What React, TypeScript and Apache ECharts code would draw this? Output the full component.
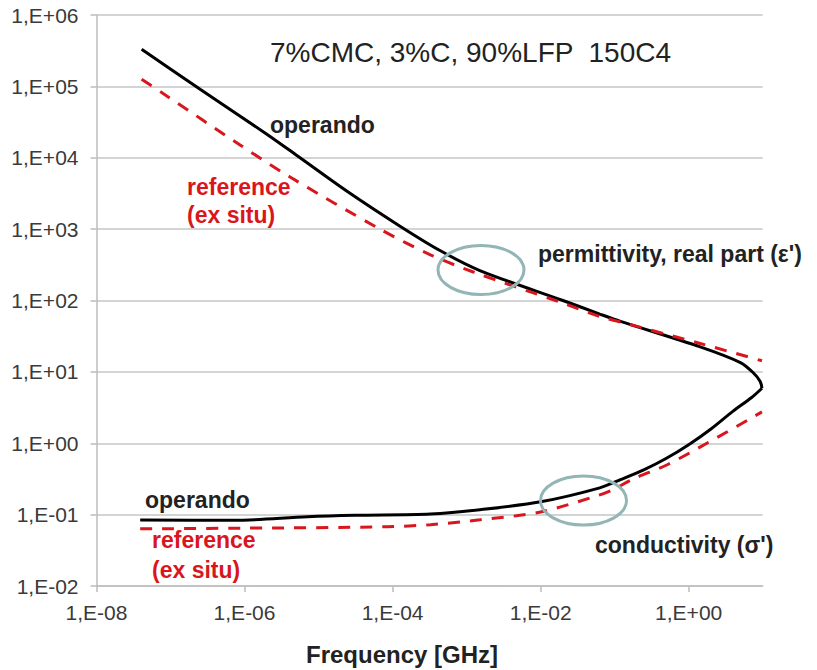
import React, { useEffect, useRef } from 'react';
import * as echarts from 'echarts';

// Frequency axis tick positions [GHz]
const xTickValues = [1e-8, 1e-6, 1e-4, 1e-2, 1];

// permittivity, real part (operando) - black solid
const operandoEpsFreq = [4.07e-8, 2.51e-7, 2.0e-6, 5.62e-6, 2.51e-5, 1.26e-4, 4.37e-4, 1.51e-3, 2.0e-2, 6.3e-2, 0.12, 1.43, 5.0, 7.4, 9.25, 9.77];
const operandoEps = [3.31e5, 9.1e4, 2.14e4, 1.0e4, 3.31e3, 1.1e3, 501, 263, 100, 64.6, 51, 22.4, 13.5, 9.8, 7.35, 5.9];

// conductivity (operando) - black solid
const operandoSigmaFreq = [3.89e-8, 7.08e-7, 7.08e-6, 3.16e-5, 3.24e-4, 1.51e-3, 1.0e-2, 6.3e-2, 0.12, 0.251, 0.501, 1.0, 2.0, 3.98, 7.08, 9.77];
const operandoSigma = [0.0841, 0.0832, 0.0933, 0.0977, 0.102, 0.117, 0.151, 0.237, 0.309, 0.427, 0.617, 0.955, 1.585, 2.82, 4.37, 5.9];

// permittivity, real part (reference, ex situ) - red dashed
const referenceEpsFreq = [4.07e-8, 7.94e-8, 8.7e-7, 4.12e-6, 6.76e-5, 3.24e-4, 1.23e-3, 1.82e-2, 6.3e-2, 0.12, 1.43, 9.77];
const referenceEps = [1.26e5, 7.94e4, 1.51e4, 5.37e3, 1.0e3, 437, 251, 95, 59.6, 50, 25, 14.3];

// conductivity (reference, ex situ) - red dashed
const referenceSigmaFreq = [3.89e-8, 1e-6, 8.5e-5, 3.24e-4, 1.51e-3, 1e-2, 6.3e-2, 9.55e-2, 0.178, 0.513, 1.76, 7.89, 9.77];
const referenceSigma = [0.0632, 0.0646, 0.0676, 0.0724, 0.0845, 0.109, 0.189, 0.224, 0.316, 0.5, 1.0, 2.42, 2.75];

const FONT = '"Liberation Sans", Arial, sans-serif';
const RED = '#d9151d';
const GRID_GRAY = '#c6c6c6';
const AXIS_GRAY = '#bdbdbd';
const LABEL = '#3a3a3a';

function fmtSci(v: number): string {
  const e = Math.round(Math.log10(v));
  return '1,E' + (e < 0 ? '-' : '+') + String(Math.abs(e)).padStart(2, '0');
}

function pairs(xs: number[], ys: number[]) {
  return xs.map((x, i) => [x, ys[i]]);
}

function boldText(text: string, x: number, y: number, fill: string, size = 23) {
  return {
    type: 'text',
    x,
    y,
    z: 50,
    style: {
      text,
      fill,
      fontFamily: FONT,
      fontWeight: 'bold',
      fontSize: size,
      align: 'left',
      verticalAlign: 'middle',
    },
  };
}

export default function App() {
  const ref = useRef<HTMLDivElement>(null);

  useEffect(() => {
    if (!ref.current) return;
    const chart = echarts.init(ref.current, null, { renderer: 'svg' });
    const option: any = {
      animation: false,
      backgroundColor: '#ffffff',
      grid: { left: 96.5, right: 54.3, top: 15, bottom: 84, containLabel: false },
      xAxis: {
        type: 'log',
        logBase: 10,
        min: 1e-8,
        max: 10,
        axisLine: { show: true, onZero: false, lineStyle: { color: AXIS_GRAY, width: 1.5 } },
        axisTick: { show: true, length: 6, customValues: xTickValues, lineStyle: { color: AXIS_GRAY, width: 1.5 } },
        axisLabel: {
          customValues: xTickValues,
          formatter: (v: number) => fmtSci(v),
          fontSize: 21,
          color: LABEL,
          fontFamily: FONT,
          margin: 16,
        },
        splitLine: { show: false },
        minorTick: { show: false },
      },
      yAxis: {
        type: 'log',
        logBase: 10,
        min: 1e-2,
        max: 1e6,
        axisLine: { show: true, lineStyle: { color: AXIS_GRAY, width: 1.5 } },
        axisTick: { show: true, length: 6, lineStyle: { color: AXIS_GRAY, width: 1.5 } },
        axisLabel: {
          formatter: (v: number) => fmtSci(v),
          fontSize: 21,
          color: LABEL,
          fontFamily: FONT,
          margin: 18,
        },
        splitLine: { show: true, lineStyle: { color: GRID_GRAY, width: 1.5 } },
      },
      series: [
        {
          name: 'operando ε\'',
          type: 'line',
          data: pairs(operandoEpsFreq, operandoEps),
          showSymbol: false,
          smooth: 0.3,
          lineStyle: { color: '#000000', width: 3 },
          z: 2,
        },
        {
          name: 'operando σ\'',
          type: 'line',
          data: pairs(operandoSigmaFreq, operandoSigma),
          showSymbol: false,
          smooth: 0.3,
          lineStyle: { color: '#000000', width: 3 },
          z: 2,
        },
        {
          name: 'reference ε\'',
          type: 'line',
          data: pairs(referenceEpsFreq, referenceEps),
          showSymbol: false,
          smooth: 0.3,
          lineStyle: { color: RED, width: 3, type: [12, 10] },
          z: 3,
        },
        {
          name: 'reference σ\'',
          type: 'line',
          data: pairs(referenceSigmaFreq, referenceSigma),
          showSymbol: false,
          smooth: 0.3,
          lineStyle: { color: RED, width: 3, type: [12, 10] },
          z: 3,
        },
      ],
      graphic: [
        {
          type: 'text',
          x: 270,
          y: 52,
          z: 50,
          style: {
            text: '7%CMC, 3%C, 90%LFP  150C4',
            fill: '#222222',
            fontFamily: FONT,
            fontSize: 28,
            align: 'left',
            verticalAlign: 'middle',
          },
        },
        boldText('operando', 270, 125, '#222222'),
        boldText('reference', 187, 187, RED),
        boldText('(ex situ)', 187, 214.5, RED),
        boldText("permittivity, real part (ε')", 538, 254, '#222222'),
        boldText('operando', 145, 500, '#222222'),
        boldText('reference', 152, 540, RED),
        boldText('(ex situ)', 152, 570, RED),
        boldText("conductivity (σ')", 595, 545, '#222222'),
        {
          type: 'text',
          x: 402,
          y: 654,
          z: 50,
          style: {
            text: 'Frequency [GHz]',
            fill: '#222222',
            fontFamily: FONT,
            fontWeight: 'bold',
            fontSize: 24,
            align: 'center',
            verticalAlign: 'middle',
          },
        },
        {
          type: 'ellipse',
          shape: { cx: 481, cy: 270, rx: 43, ry: 24.5 },
          style: { fill: 'none', stroke: '#93b5b5', lineWidth: 3 },
          z: 60,
        },
        {
          type: 'ellipse',
          shape: { cx: 583.5, cy: 500.5, rx: 43, ry: 24.5 },
          style: { fill: 'none', stroke: '#93b5b5', lineWidth: 3 },
          z: 60,
        },
      ],
    };
    chart.setOption(option);
    return () => chart.dispose();
  }, []);

  return (
    <div
      ref={ref}
      style={{ position: 'absolute', left: 0, top: 0, width: 817, height: 670, background: '#fff' }}
    />
  );
}
